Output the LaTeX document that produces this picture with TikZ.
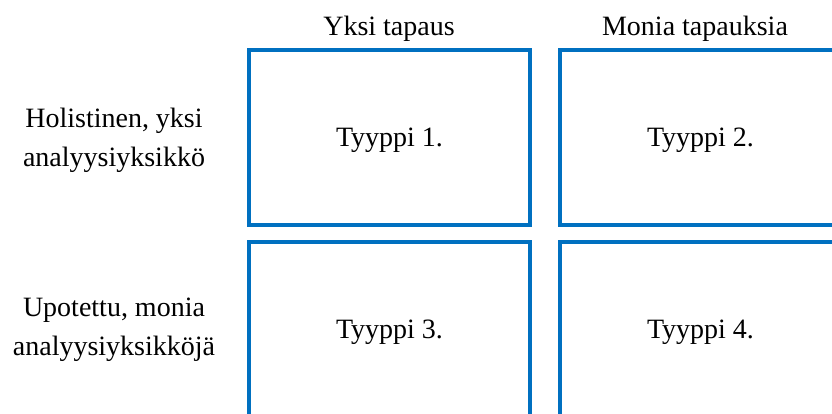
\documentclass[tikz,border=0pt]{standalone}
\usepackage{fontspec}
\setmainfont{Liberation Serif}
\definecolor{cellblue}{HTML}{0070C0}
\begin{document}
\begin{tikzpicture}[x=1pt,y=-1pt,
  txt/.style={font=\fontsize{28}{38.7}\selectfont, inner sep=0pt},
  cell/.style={txt, draw=cellblue, line width=4pt, anchor=north west,
    minimum width=281pt, minimum height=175pt, text depth=0pt},
  head/.style={txt, anchor=base},
  rowlab/.style={txt, align=center}]
  \useasboundingbox (0,0) rectangle (832,414);
  \clip (0,0) rectangle (832,414);

  % column headers
  \node[head] (h1) at (389,35.7) {Yksi tapaus};
  \node[head] (h2) at (695,35.7) {Monia tapauksia};

  % row labels
  \node[rowlab] (r1) at (114,140) {Holistinen, yksi\\analyysiyksikkö};
  \node[rowlab] (r2) at (114,330) {Upotettu, monia\\analyysiyksikköjä};

  % the four case types
  \node[cell] (t1) at (247,48)  {Tyyppi 1.};
  \node[cell] (t2) at (558,48)  {Tyyppi 2.};
  \node[cell] (t3) at (247,240) {Tyyppi 3.};
  \node[cell] (t4) at (558,240) {Tyyppi 4.};
\end{tikzpicture}
\end{document}
